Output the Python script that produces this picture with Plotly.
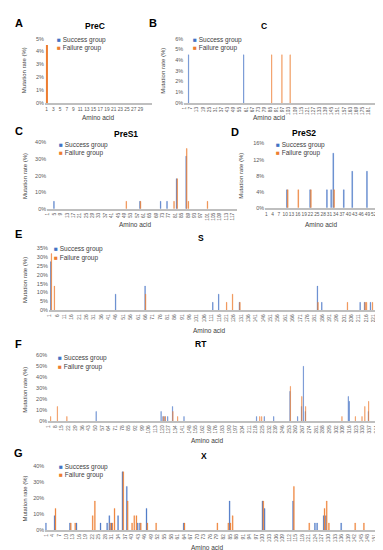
import plotly.graph_objects as go

W, H = 383, 550
BLUE = "#4472C4"
ORANGE = "#ED7D31"

# ---------------- data (mutation rate, %) ----------------
prec_s_pos = []
prec_s_val = []
prec_f_pos = [1]
prec_f_val = [4.5]

core_s_pos = [5, 59]
core_s_val = [4.5, 4.5]
core_f_pos = [86, 96, 104]
core_f_val = [4.5, 4.5, 4.5]

pres1_s_pos = [5, 59, 72, 76, 82, 88]
pres1_s_val = [4.5, 4.5, 4.5, 4.5, 18.2, 31.8]
pres1_f_pos = [50, 59, 80, 82, 88, 89, 101]
pres1_f_val = [4.5, 4.5, 4.5, 18.2, 36.4, 4.5, 4.5]

pres2_s_pos = [11, 22, 30, 32, 33, 38, 42, 49]
pres2_s_val = [4.5, 4.5, 4.5, 4.5, 13.6, 4.5, 9.1, 9.1]
pres2_f_pos = [11, 16, 22, 33, 55]
pres2_f_val = [4.5, 4.5, 4.5, 4.5, 4.5]

s_s_pos = [2, 46, 66, 112, 116, 130, 183, 186, 212, 215, 219]
s_s_val = [27.3, 9.1, 13.6, 4.5, 9.1, 4.5, 13.6, 4.5, 4.5, 4.5, 4.5]
s_f_pos = [2, 4, 66, 121, 125, 130, 183, 203, 215, 216, 220]
s_f_val = [31.8, 13.6, 9.1, 4.5, 9.1, 4.5, 4.5, 4.5, 4.5, 4.5, 4.5]

rt_s_pos = [51, 119, 121, 123, 126, 131, 143, 219, 227, 237, 254, 262, 266,
            268, 270, 315, 316, 336]
rt_s_val = [9.1, 9.1, 4.5, 4.5, 4.5, 13.6, 4.5, 4.5, 4.5, 4.5, 27.3, 4.5, 13.6,
            50.0, 9.1, 22.7, 18.2, 9.1]
rt_f_pos = [3, 10, 20, 121, 123, 131, 136, 222, 224, 254, 266, 270, 308, 322,
            329, 332, 336]
rt_f_val = [4.5, 13.6, 4.5, 4.5, 4.5, 9.1, 4.5, 4.5, 4.5, 31.8, 22.7, 13.6, 4.5,
            4.5, 4.5, 13.6, 18.2]

x_s_pos = [1, 5, 12, 15, 26, 29, 30, 31, 34, 36, 38, 43, 44, 47, 64, 85, 100,
           101, 114, 124, 125, 128, 129, 136]
x_s_val = [4.5, 9.1, 4.5, 4.5, 4.5, 4.5, 9.1, 4.5, 9.1, 36.4, 27.3, 4.5, 4.5,
           13.6, 4.5, 18.2, 18.2, 13.6, 18.2, 4.5, 4.5, 9.1, 9.1, 4.5]
x_f_pos = [5, 12, 14, 22, 23, 30, 31, 32, 36, 38, 40, 41, 42, 44, 47, 51, 64,
           79, 84, 85, 86, 100, 114, 121, 128, 129, 130, 142, 146]
x_f_val = [13.6, 4.5, 4.5, 9.1, 18.2, 4.5, 4.5, 13.6, 36.4, 18.2, 4.5, 9.1, 9.1,
           4.5, 4.5, 4.5, 4.5, 4.5, 4.5, 4.5, 9.1, 18.2, 27.3, 4.5, 13.6, 18.2,
           4.5, 4.5, 4.5]

prec_ticks = list(range(1, 30, 2))
core_ticks = list(range(1, 182, 6))
pres1_ticks = list(range(1, 118, 4))
pres2_ticks = list(range(1, 56, 3))
s_ticks = list(range(1, 227, 5))
rt_ticks = list(range(1, 345, 7))
x_ticks = list(range(1, 155, 3))

# ---------------- panel layout ----------------
panels = [
    dict(letter="A", title="PreC", s=(prec_s_pos, prec_s_val), f=(prec_f_pos, prec_f_val),
         xpx=(35.3, 143), ypx=(28, 93), xr=(0.5, 32.3), ymax=5, dt=1, ticks=prec_ticks,
         angle=0, lw=0, letpos=(9, 12), tpos=(86, 15), leg=(45, 29), ylab=(15, 60),
         xlab=(89, 108)),
    dict(letter="B", title="C", s=(core_s_pos, core_s_val), f=(core_f_pos, core_f_val),
         xpx=(176, 373), ypx=(28, 93), xr=(0.5, 191.3), ymax=6, dt=1, ticks=core_ticks,
         angle=-90, lw=0.35, letpos=(145, 12), tpos=(257, 15), leg=(183, 29), ylab=(155, 60),
         xlab=(262, 108)),
    dict(letter="C", title="PreS1", s=(pres1_s_pos, pres1_s_val), f=(pres1_f_pos, pres1_f_val),
         xpx=(37.5, 229), ypx=(133, 200), xr=(0.5, 119.5), ymax=40, dt=10, ticks=pres1_ticks,
         angle=-90, lw=0.35, letpos=(9, 121), tpos=(117, 124), leg=(47, 135), ylab=(15, 167),
         xlab=(127, 216)),
    dict(letter="D", title="PreS2", s=(pres2_s_pos, pres2_s_val), f=(pres2_f_pos, pres2_f_val),
         xpx=(257.9, 375), ypx=(134, 199), xr=(0.5, 55.5), ymax=16, dt=4, ticks=pres2_ticks,
         angle=0, lw=0.3, letpos=(227, 122), tpos=(297, 123), leg=(267, 135), ylab=(234, 167),
         xlab=(315, 216)),
    dict(letter="E", title="S", s=(s_s_pos, s_s_val), f=(s_f_pos, s_f_val),
         xpx=(39.3, 375.7), ypx=(239.5, 302.7), xr=(0.5, 226.5), ymax=35, dt=5, ticks=s_ticks,
         angle=-90, lw=0.35, letpos=(9, 225), tpos=(193, 229), leg=(42, 241), ylab=(15, 272),
         xlab=(202, 323)),
    dict(letter="F", title="RT", s=(rt_s_pos, rt_s_val), f=(rt_f_pos, rt_f_val),
         xpx=(38.5, 370.5), ypx=(348, 415), xr=(0.5, 344.5), ymax=60, dt=10, ticks=rt_ticks,
         angle=-90, lw=0.35, letpos=(9, 337), tpos=(193, 337), leg=(46, 351), ylab=(15, 383),
         xlab=(200, 434)),
    dict(letter="G", title="X", s=(x_s_pos, x_s_val), f=(x_f_pos, x_f_val),
         xpx=(35.6, 376), ypx=(460, 525), xr=(0.5, 154.5), ymax=40, dt=10, ticks=x_ticks,
         angle=-90, lw=0.3, letpos=(9, 447), tpos=(196, 450), leg=(47, 461), ylab=(15, 493),
         xlab=(200, 542)),
]

FONT = "Liberation Sans, Arial, sans-serif"
fig = go.Figure()
layout = dict(width=W, height=H, margin=dict(l=0, r=0, t=0, b=0),
              paper_bgcolor="white", plot_bgcolor="white", barmode="overlay",
              showlegend=False, font=dict(family=FONT, color="#404040"))
annotations = []


def ann(x, y, text, size, bold=False, color="#000000", angle=0, xanchor="center"):
    t = f"<b>{text}</b>" if bold else text
    annotations.append(dict(x=x / W, y=1 - y / H, xref="paper", yref="paper", text=t,
                            showarrow=False, xanchor=xanchor, yanchor="middle",
                            textangle=angle, font=dict(size=size, color=color, family=FONT)))


for i, p in enumerate(panels):
    n = i + 1
    sfx = "" if n == 1 else str(n)
    xa, ya = "x" + sfx, "y" + sfx
    for (pos, val), col, off in ((p["s"], BLUE, -0.4), (p["f"], ORANGE, 0.0)):
        fig.add_trace(go.Bar(x=pos, y=val, xaxis=xa, yaxis=ya, width=0.4, offset=off,
                             marker=dict(color=col, line=dict(color=col, width=p["lw"])),
                             hoverinfo="x+y"))
    layout["xaxis" + sfx] = dict(
        domain=[p["xpx"][0] / W, p["xpx"][1] / W], range=list(p["xr"]), anchor=ya,
        tickmode="array", tickvals=p["ticks"], ticktext=[str(t) for t in p["ticks"]],
        tickangle=p["angle"], tickfont=dict(size=4.8, color="#595959"),
        showline=True, linecolor="#BFBFBF", linewidth=2, showgrid=False,
        zeroline=False, ticks="", fixedrange=True)
    layout["yaxis" + sfx] = dict(
        domain=[1 - p["ypx"][1] / H, 1 - p["ypx"][0] / H], range=[0, p["ymax"]],
        anchor=xa, dtick=p["dt"], tick0=0, ticksuffix="%",
        tickfont=dict(size=5.5, color="#595959"), showline=False, showgrid=False,
        zeroline=False, ticks="", fixedrange=True)
    ann(*p["letpos"], p["letter"], 11, bold=True)
    ann(*p["tpos"], p["title"], 8.5, bold=True)
    lx, ly = p["leg"]
    ann(lx, ly, f"<span style='color:{BLUE}'>■</span> Success group", 6.5,
        color="#404040", xanchor="left")
    ann(lx, ly + 8.5, f"<span style='color:{ORANGE}'>■</span> Failure group", 6.5,
        color="#404040", xanchor="left")
    ann(*p["ylab"], "Mutation rate (%)", 6, color="#404040", angle=-90)
    ann(*p["xlab"], "Amino acid", 6.5, color="#404040")

layout["annotations"] = annotations
fig.update_layout(**layout)
fig.write_html("out.html")
